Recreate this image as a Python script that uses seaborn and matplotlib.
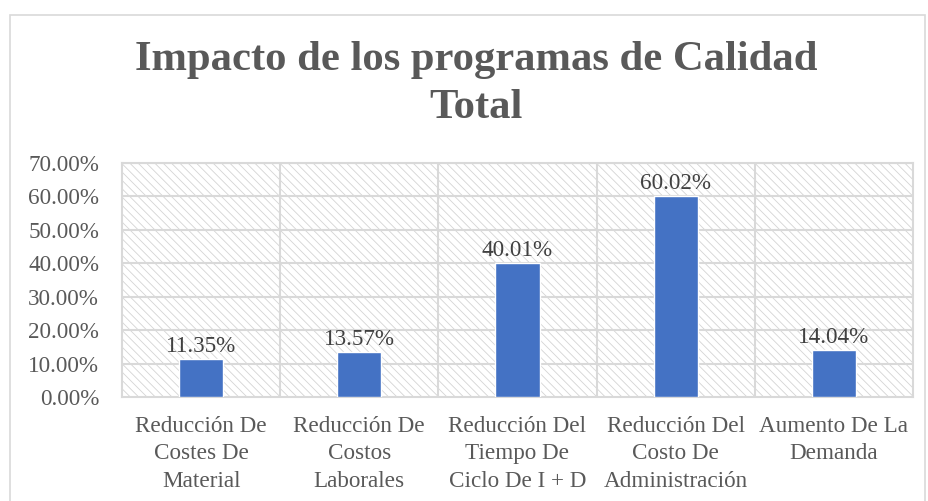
import matplotlib
matplotlib.use("Agg")
import matplotlib.pyplot as plt
import seaborn as sns
import pandas as pd
from matplotlib.patches import Rectangle
from matplotlib.ticker import FuncFormatter

# datos del grafico
categorias = [
    "Reducción De\nCostes De\nMaterial",
    "Reducción De\nCostos\nLaborales",
    "Reducción Del\nTiempo De\nCiclo De I + D",
    "Reducción Del\nCosto De\nAdministración",
    "Aumento De La\nDemanda",
]
valores = [11.35, 13.57, 40.01, 60.02, 14.04]
etiquetas = ["11.35%", "13.57%", "40.01%", "60.02%", "14.04%"]

df = pd.DataFrame({"categoria": categorias, "valor": valores})

sns.set_style("white")
plt.rcParams["font.family"] = ["Liberation Serif", "DejaVu Serif"]
plt.rcParams["hatch.linewidth"] = 0.6
plt.rcParams["hatch.color"] = "#d4d4d4"

fig = plt.figure(figsize=(9.29, 5.01), dpi=100)
ax = fig.add_axes([122 / 929, 1 - 397 / 501, 791 / 929, 234 / 501])

# borde del grafico
fig.patches.append(Rectangle((10 / 929, -0.05), 915 / 929, 1.04 - 10 / 501,
                             transform=fig.transFigure, fill=False,
                             edgecolor="#d9d9d9", linewidth=1.2))

# fondo rayado
ax.add_patch(Rectangle((0, 0), 1, 1, transform=ax.transAxes, facecolor="white",
                       hatch="\\\\\\\\", edgecolor="#d4d4d4", linewidth=0, zorder=0))

sns.barplot(data=df, x="categoria", y="valor", color="#4472C4", width=0.28,
            saturation=1, ax=ax, zorder=3)

ax.set_ylim(0, 70)
ax.set_xlim(-0.5, 4.5)
ax.set_yticks(range(0, 71, 10))
ax.yaxis.set_major_formatter(FuncFormatter(lambda v, p: f"{v:.2f}%"))
for y in range(10, 71, 10):
    ax.axhline(y, color="#d9d9d9", linewidth=1.5, zorder=1)
for x in [0.5, 1.5, 2.5, 3.5]:
    ax.axvline(x, color="#d9d9d9", linewidth=1.5, zorder=1)

for s in ["top", "right", "left", "bottom"]:
    ax.spines[s].set_color("#d9d9d9")
    ax.spines[s].set_linewidth(1.5)

ax.tick_params(axis="both", length=0, labelsize=16.7, labelcolor="#595959")
ax.tick_params(axis="y", pad=16.5)
ax.tick_params(axis="x", pad=13.5)
for lbl in ax.get_xticklabels():
    lbl.set_linespacing(1.4)
ax.set_xlabel("")
ax.set_ylabel("")

for i, (v, t) in enumerate(zip(valores, etiquetas)):
    ax.text(i, v + 0.6, t, ha="center", va="bottom", fontsize=16.7,
            color="#404040", zorder=4)

fig.text(476 / 929, 1 - 84 / 501, "Impacto de los programas de Calidad\nTotal",
         ha="center", va="center", fontsize=30.7, fontweight="bold",
         color="#595959", linespacing=1.32)

fig.savefig("out.png", dpi=100)
